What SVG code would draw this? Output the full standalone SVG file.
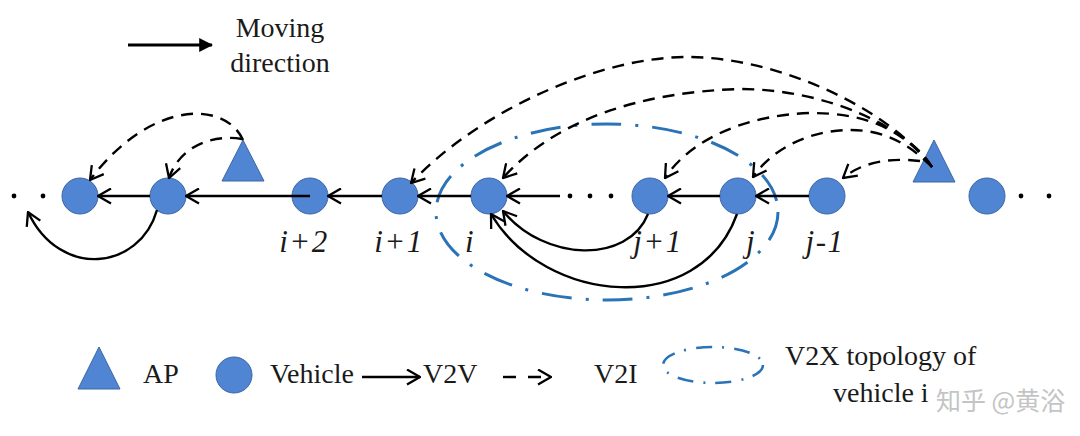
<svg xmlns="http://www.w3.org/2000/svg" width="1080" height="436" viewBox="0 0 1080 436">
<style>
.veh{fill:#4f85d3;stroke:#3d66a3;stroke-width:1}
.ap{fill:#4f85d3;stroke:#3d66a3;stroke-width:1}
.v2v{fill:none;stroke:#000;stroke-width:2.4;marker-end:url(#open)}
.v2i{fill:none;stroke:#000;stroke-width:2.4;stroke-dasharray:12 8;marker-end:url(#open)}
.lbl{font-family:'Liberation Serif','Times New Roman',Tinos,'DejaVu Serif',serif;font-style:italic;font-size:31px;fill:#1a1a1a;text-anchor:middle;letter-spacing:1.5px}
.txt{font-family:'Liberation Serif','Times New Roman',Tinos,'DejaVu Serif',serif;font-size:28px;fill:#1a1a1a}
.dot{fill:#000}
.topo{fill:none;stroke:#2a73b6;stroke-width:3;stroke-dasharray:30 14 3 14}
</style>
<defs>
<marker id="open" viewBox="0 0 15 17" refX="14" refY="8.5" markerWidth="15" markerHeight="17" markerUnits="userSpaceOnUse" orient="auto">
<path d="M1,1 L14,8.5 L1,16" fill="none" stroke="#000" stroke-width="2.3"/>
</marker>
<marker id="solid" viewBox="0 0 12 12" refX="11" refY="6" markerWidth="14" markerHeight="14" markerUnits="userSpaceOnUse" orient="auto">
<path d="M0,0 L12,6 L0,12 Z" fill="#000"/>
</marker>
</defs>
<rect width="1080" height="436" fill="#fff"/>

<g id="topology">
<ellipse class="topo" cx="607" cy="212" rx="171" ry="88"/>
</g>

<g id="direction">
<line x1="128" y1="45" x2="212" y2="45" stroke="#000" stroke-width="3.2" marker-end="url(#solid)"/>
<text class="txt" x="280" y="37" text-anchor="middle">Moving</text>
<text class="txt" x="280" y="72" text-anchor="middle">direction</text>
</g>

<g id="dots">
<circle class="dot" cx="14" cy="196" r="2.4"/>
<circle class="dot" cx="43" cy="196" r="2.4"/>
<circle class="dot" cx="570" cy="196" r="2.4"/>
<circle class="dot" cx="590" cy="196" r="2.4"/>
<circle class="dot" cx="611" cy="196" r="2.4"/>
<circle class="dot" cx="1021" cy="196" r="2.4"/>
<circle class="dot" cx="1049" cy="196" r="2.4"/>
</g>

<g id="ap1"><polygon class="ap" points="243,140 222,181 264,181"/></g>
<g id="ap2"><polygon class="ap" points="934,140 913,182 955,182"/></g>
<g id="v1"><circle class="veh" cx="80" cy="196" r="18"/></g>
<g id="v2"><circle class="veh" cx="168" cy="196" r="18"/></g>
<g id="v-i2"><circle class="veh" cx="310" cy="196" r="18"/><text class="lbl" x="304" y="252">i+2</text></g>
<g id="v-i1"><circle class="veh" cx="400" cy="196" r="18"/><text class="lbl" x="399" y="252">i+1</text></g>
<g id="v-i"><circle class="veh" cx="489" cy="196" r="18"/><text class="lbl" x="470" y="252">i</text></g>
<g id="v-j1"><circle class="veh" cx="650" cy="196" r="18"/><text class="lbl" x="658" y="252">j+1</text></g>
<g id="v-j"><circle class="veh" cx="738" cy="196" r="18"/><text class="lbl" x="751" y="252">j</text></g>
<g id="v-jm1"><circle class="veh" cx="827" cy="196" r="18"/><text class="lbl" x="825" y="252">j-1</text></g>
<g id="v9"><circle class="veh" cx="987" cy="196" r="18"/></g>

<g id="connectors">
<line class="v2v" x1="150" y1="196" x2="98" y2="196"/>
<line class="v2v" x1="310" y1="196" x2="186" y2="196"/>
<line class="v2v" x1="382" y1="196" x2="328" y2="196"/>
<line class="v2v" x1="471" y1="196" x2="418" y2="196"/>
<line class="v2v" x1="560" y1="196" x2="507" y2="196"/>
<line class="v2v" x1="720" y1="196" x2="668" y2="196"/>
<line class="v2v" x1="809" y1="196" x2="756" y2="196"/>
<path class="v2v" d="M157,210 C140,270 60,280 28,212"/>
<path class="v2v" d="M648,214 C628,264 545,262 503,211"/>
<path class="v2v" d="M737,214 C700,318 545,305 491,214"/>
<path class="v2i" d="M242,139 C215,134 180,145 169,178"/>
<path class="v2i" d="M243,140 C225,100 150,100 90,180"/>
<path class="v2i" d="M932,167 C890,110 780,57 687,57 C600,57 480,110 411,183"/>
<path class="v2i" d="M932,167 C910,130 830,89 740,89 C640,92 555,120 503,178"/>
<path class="v2i" d="M932,167 C900,125 860,113 810,113 C745,115 690,140 665,178"/>
<path class="v2i" d="M932,167 C905,140 880,130 850,130 C815,130 775,145 753,177"/>
<path class="v2i" d="M920,161 C895,158 865,160 843,178"/>
</g>

<g id="legend">
<polygon class="ap" points="99,347 78,389 120,389"/>
<text class="txt" x="143" y="383">AP</text>
<circle class="veh" cx="234" cy="375" r="18"/>
<text class="txt" x="270" y="383">Vehicle</text>
<line class="v2v" x1="362" y1="377" x2="420" y2="377"/>
<text class="txt" x="423" y="383">V2V</text>
<line class="v2i" x1="503" y1="377" x2="551" y2="377" style="stroke-dasharray:13 12"/>
<text class="txt" x="594" y="383">V2I</text>
<ellipse cx="713" cy="365" rx="50" ry="18" fill="none" stroke="#2a73b6" stroke-width="2.6" stroke-dasharray="16 10 2 10"/>
<text class="txt" x="785" y="365">V2X topology of</text>
<text class="txt" x="833" y="402">vehicle i</text>
<text x="936" y="410" font-family="'Noto Sans CJK SC','Noto Sans',sans-serif" font-size="25" fill="#c4c4c4">知乎 @黄浴</text>
</g>
</svg>
